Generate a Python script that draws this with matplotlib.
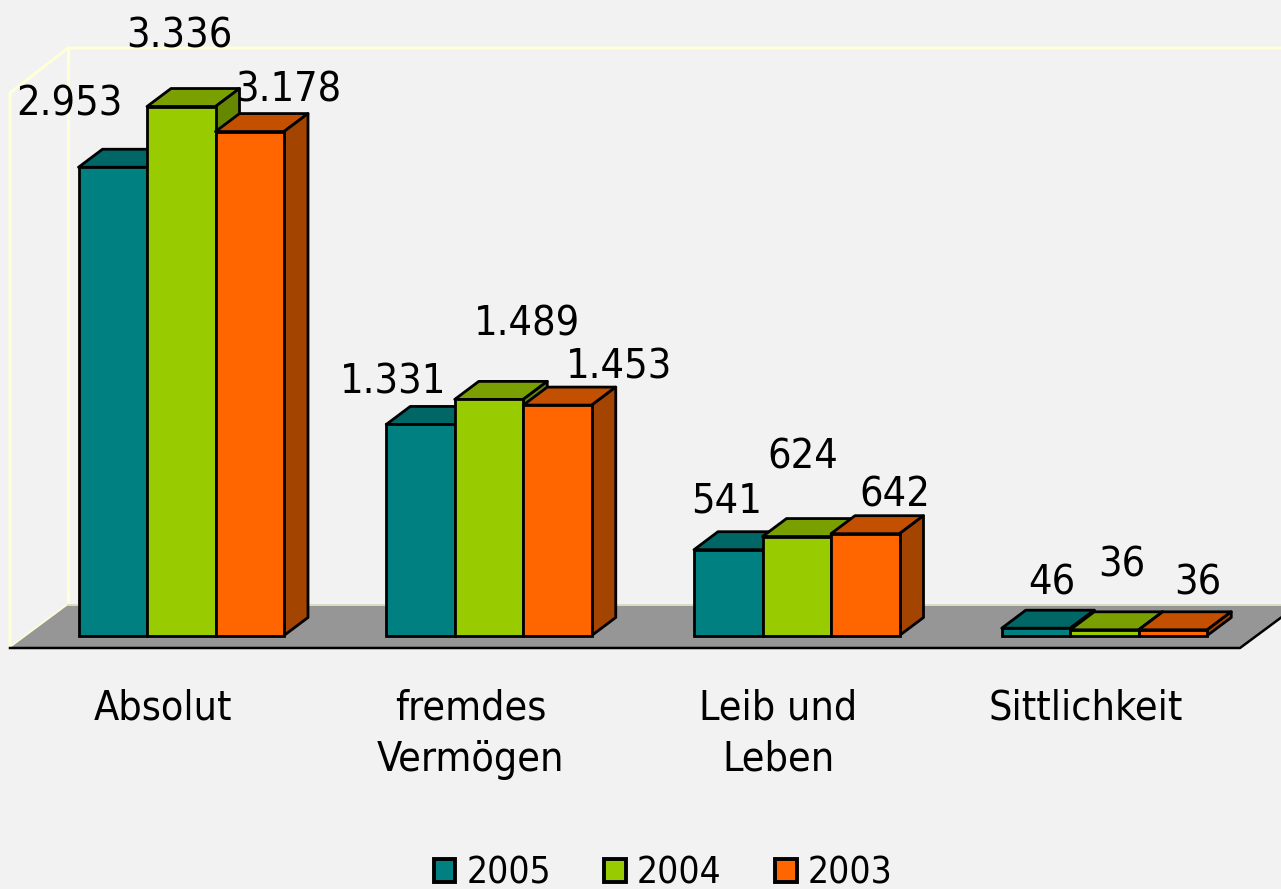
import matplotlib
matplotlib.use("Agg")
import matplotlib.pyplot as plt
from matplotlib.font_manager import FontProperties
from matplotlib.patches import Polygon, Patch

categories = ["Absolut", "fremdes\nVermögen", "Leib und\nLeben", "Sittlichkeit"]
years = ["2005", "2004", "2003"]
values_2005 = [2953, 1331, 541, 46]
values_2004 = [3336, 1489, 624, 36]
values_2003 = [3178, 1453, 642, 36]
labels_2005 = ["2.953", "1.331", "541", "46"]
labels_2004 = ["3.336", "1.489", "624", "36"]
labels_2003 = ["3.178", "1.453", "642", "36"]

# layout only: label offsets (pixels from bar top-centre)
off_2005 = [(-43, 62.5), (-27, 41.5), (-2, 48.5), (16, 44.5)]
off_2004 = [(-2, 70.5), (38, 74.5), (6, 79.5), (17, 64.5)]
off_2003 = [(38, 41.5), (62, 37.5), (30, 38.5), (25, 46.5)]

W, H = 1281, 889
Y0 = 635.5
PX_PER_UNIT = 0.15857
STEP = 307.75
BAR = 68.5
DX, DY = 24, 18
X0 = 181.25

colors = {
    "2005": ("#008080", "#006666", "#004D4D"),
    "2004": ("#99CC00", "#7A9F00", "#668800"),
    "2003": ("#FF6600", "#C25000", "#A34400"),
}
BG = "#F2F2F2"
font = dict(family="DejaVu Sans", stretch="condensed")

fig = plt.figure(figsize=(W / 100, H / 100), dpi=100, facecolor=BG)
ax = fig.add_axes([0, (H - Y0) / H, 1, Y0 / H])
ax.set_facecolor("none")
ax.set_xlim(-X0 / STEP, (W - X0) / STEP)
ax.set_ylim(0, Y0 / PX_PER_UNIT)
for s in ax.spines.values():
    s.set_visible(False)
ax.set_yticks([])

xu = 1 / STEP
yu = 1 / PX_PER_UNIT


def px(x, y):
    return (x - X0) * xu, (Y0 - y) * yu


# floor and walls
ax.add_patch(Polygon([px(10, 648), px(68, 605), px(1298, 605), px(1240, 648)],
                     closed=True, fc="#969696", ec="none", clip_on=False, zorder=1))
wall = dict(color="#FFFFD9", lw=2.2, zorder=0.5, clip_on=False, solid_capstyle="round")
for seg in ([(10, 648), (10, 93), (68, 48), (1281, 48)], [(68, 48), (68, 605)], [(10, 648), (68, 605)]):
    ax.plot(*zip(*[px(*q) for q in seg]), **wall)
ax.plot(*zip(*[px(68, 605), px(1281, 605)]), color="#DCDCC0", lw=1.4, zorder=1.1, clip_on=False)
ax.plot(*zip(*[px(10, 648), px(1240, 648), px(1298, 605)]), color="black", lw=1.8, zorder=1.2, clip_on=False)

# bars
series = [values_2005, values_2004, values_2003]
bar_w = BAR * xu
dx, dy = DX * xu, DY * yu
z = 2
edge = dict(ec="black", lw=2.0, joinstyle="round", clip_on=False)
for c in range(len(categories)):
    for s, yr in enumerate(years):
        v = series[s][c]
        left = c - 1.5 * bar_w + s * bar_w
        right = left + bar_w
        front, top, side = colors[yr]
        ax.add_patch(Polygon([(left, v), (left + dx, v + dy), (right + dx, v + dy), (right, v)],
                             closed=True, fc=top, zorder=z, **edge))
        ax.add_patch(Polygon([(right, 0), (right + dx, dy), (right + dx, v + dy), (right, v)],
                             closed=True, fc=side, zorder=z, **edge))
        ax.bar(left, v, width=bar_w, align="edge", color=front, edgecolor="black",
               linewidth=2.0, zorder=z, clip_on=False)
        z += 1

# value labels
for s, (labs, offs) in enumerate(zip([labels_2005, labels_2004, labels_2003],
                                     [off_2005, off_2004, off_2003])):
    for c, (t, o) in enumerate(zip(labs, offs)):
        xc = c - 1.5 * bar_w + (s + 0.5) * bar_w
        ax.annotate(t, (xc, series[s][c]), xytext=o, textcoords="offset pixels",
                    ha="center", va="center", fontsize=29.7, color="black",
                    zorder=50, annotation_clip=False, **font)

# category axis (labels sit under the front floor edge, shifted with the 3D depth)
ax.set_xticks([c - 18.5 * xu for c in range(len(categories))])
ax.set_xticklabels(categories, fontsize=29.5, linespacing=1.37, **font)
ax.tick_params(axis="x", length=0, pad=38, colors="black")

# legend
handles = [Patch(fc=colors[y][0], ec="black", lw=2.8, label=y) for y in years]
leg = fig.legend(handles=handles, ncol=3, loc="center", bbox_to_anchor=(663 / W, 1 - 873 / H),
                 frameon=False, handlelength=0.58, handleheight=0.58, handletextpad=0.3,
                 columnspacing=1.45, borderpad=0, borderaxespad=0,
                 prop=FontProperties(family="DejaVu Sans", stretch="condensed", size=26.6))

fig.savefig("out.png", dpi=100, facecolor=BG)
